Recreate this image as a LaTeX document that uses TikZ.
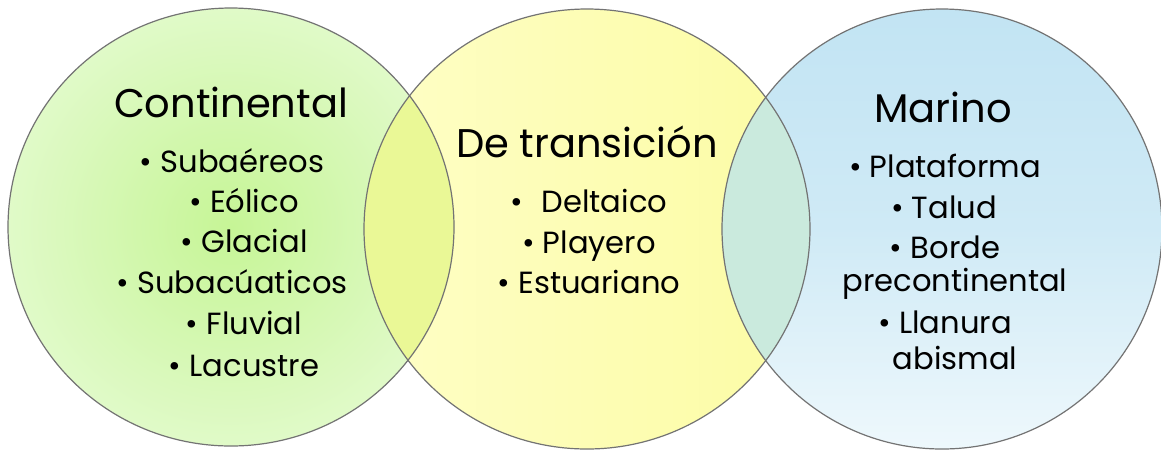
\documentclass[tikz,border=0pt]{standalone}
\usepackage{fontspec}
\setmainfont{Poppins}
\begin{document}
\begin{tikzpicture}[x=0.5pt,y=-0.5pt,
  outline/.style={draw=black!55,line width=0.6},
  title/.style={anchor=base,inner sep=0,font=\fontsize{20}{24}\selectfont},
  item/.style={anchor=base,inner sep=0,font=\fontsize{15.3}{18}\selectfont}]
\definecolor{gedge}{HTML}{E0FAC8}
\definecolor{gmid}{HTML}{C6F596}
\definecolor{yl}{HTML}{FEFEC6}
\definecolor{yr}{HTML}{FCFCA4}
\definecolor{btop}{HTML}{C2E4F3}
\definecolor{bbot}{HTML}{EEF8FC}
\definecolor{ovlg}{HTML}{EAF896}
\definecolor{ovmb}{HTML}{CAEADD}
\useasboundingbox (0,0) rectangle (1161,452);
\fill[white] (0,0) rectangle (1161,452);
\coordinate (cl) at (231,227);
\coordinate (cm) at (587,229);
\coordinate (cr) at (942,229);
% circles
\shade[inner color=gmid,outer color=gedge] (cl) ellipse [x radius=223,y radius=219];
\shade[left color=yl,right color=yr] (cm) ellipse [x radius=223,y radius=220];
\shade[shading angle=-45,top color=btop,bottom color=bbot,middle color=btop!70!bbot] (cr) ellipse [x radius=220,y radius=220];
% overlaps
\begin{scope}
\clip (cl) ellipse [x radius=223,y radius=219];
\fill[ovlg] (cm) ellipse [x radius=223,y radius=220];
\end{scope}
\begin{scope}
\clip (cm) ellipse [x radius=223,y radius=220];
\fill[ovmb] (cr) ellipse [x radius=220,y radius=220];
\end{scope}
% outlines
\draw[outline] (cl) ellipse [x radius=223,y radius=219];
\draw[outline] (cm) ellipse [x radius=223,y radius=220];
\draw[outline] (cr) ellipse [x radius=220,y radius=220];
% left texts
\node[title] (t1) at (231,117) {Continental};
\node[item] (l1) at (232,172) {\textbullet\ Subaéreos};
\node[item] (l2) at (244,212) {\textbullet\ Eólico};
\node[item] (l3) at (244,252) {\textbullet\ Glacial};
\node[item] (l4) at (232,293) {\textbullet\ Subacúaticos};
\node[item] (l5) at (244,334) {\textbullet\ Fluvial};
\node[item] (l6) at (244,376) {\textbullet\ Lacustre};
% middle texts
\node[title] (t2) at (587,157) {De transición};
\node[item] (m1) at (589,212) {\textbullet\hspace{0.6em}Deltaico};
\node[item] (m2) at (589,253) {\textbullet\ Playero};
\node[item] (m3) at (589,293) {\textbullet\ Estuariano};
% right texts
\node[title] (t3) at (943,122) {Marino};
\node[item] (r1) at (945,177) {\textbullet\ Plataforma};
\node[item] (r2) at (944,218) {\textbullet\ Talud};
\node[item] (r3) at (945,258) {\textbullet\ Borde};
\node[item] (r4) at (955,291) {precontinental};
\node[item] (r5) at (945,333) {\textbullet\ Llanura};
\node[item] (r6) at (955,369) {abismal};
\end{tikzpicture}
\end{document}
